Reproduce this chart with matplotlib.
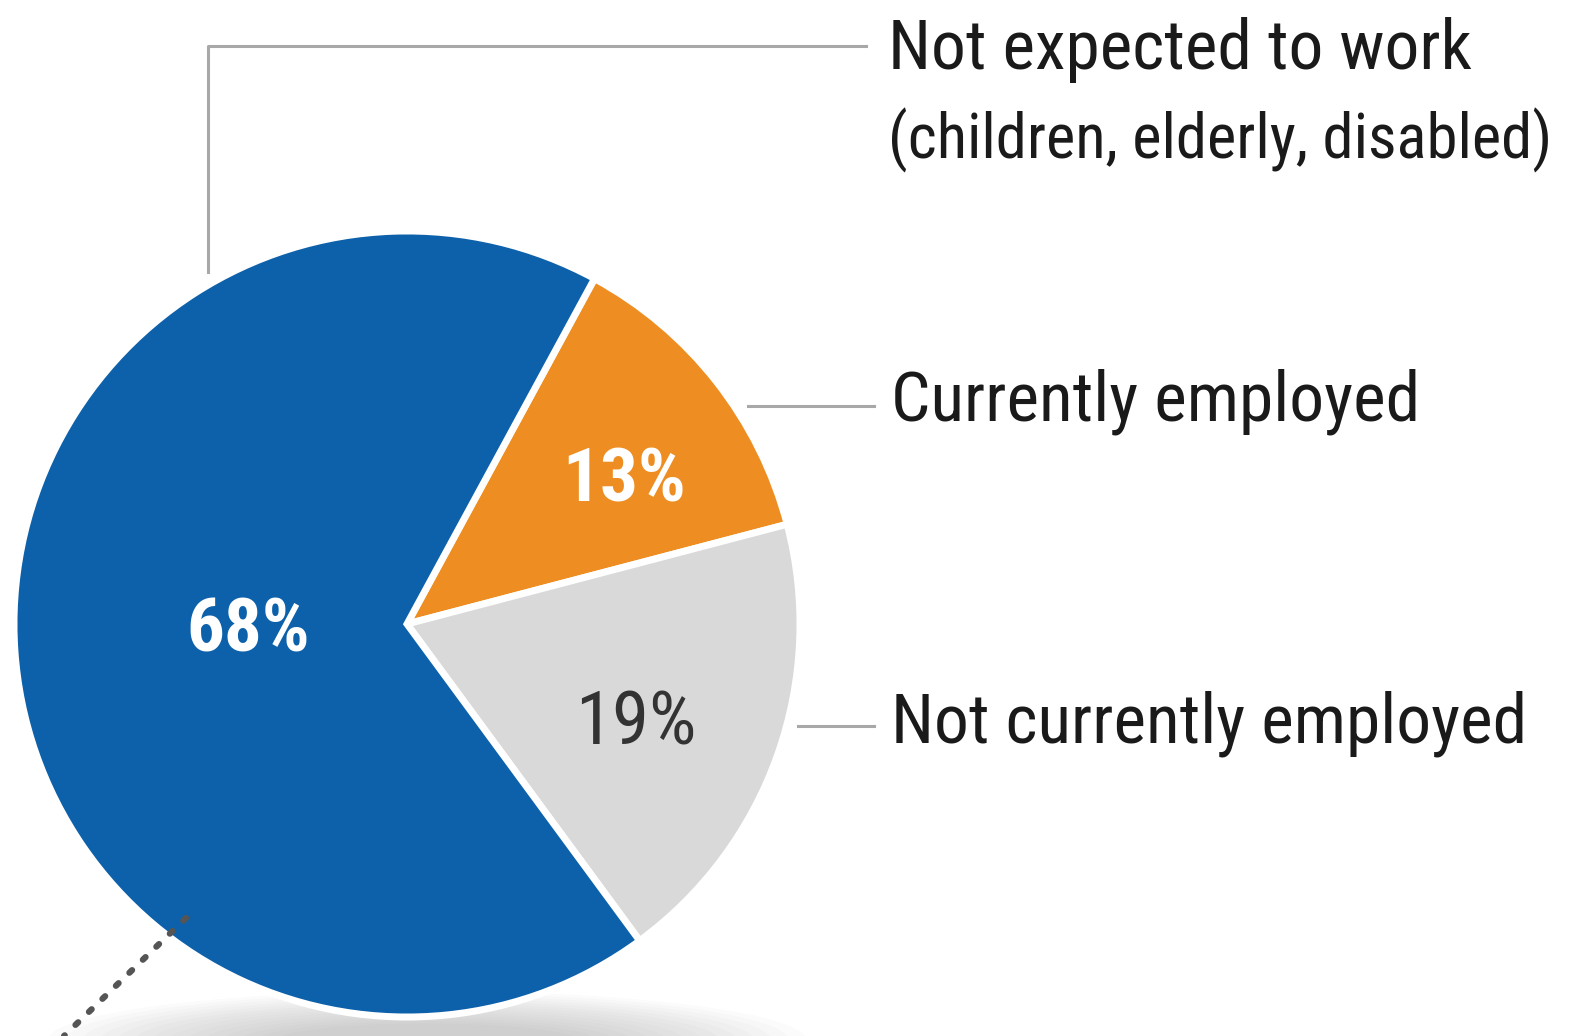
import matplotlib.pyplot as plt
from matplotlib import font_manager
from matplotlib.patches import Ellipse

# Data
labels = ["Currently employed", "Not currently employed",
          "Not expected to work", "(children, elderly, disabled)"]
values = [13, 19, 68]
colors = ["#EE8E22", "#D9D9D9", "#0C61AA"]
pct_text = ["13%", "19%", "68%"]

# pick a narrow font if one is there
names = {f.name for f in font_manager.fontManager.ttflist}
font = "DejaVu Sans"
for cand in ["Roboto Condensed", "Liberation Sans Narrow", "Open Sans Condensed"]:
    if cand in names:
        font = cand
        break
plt.rcParams["font.family"] = font

W, H = 1577, 1036
fig = plt.figure(figsize=(W / 100, H / 100), dpi=100)
ax = fig.add_axes([0, 0, 1, 1])

cx, cy, r = 407, H - 624, 393

# soft shadow under the pie
for i in range(14):
    ax.add_patch(Ellipse((cx + 20, -5), 760 - i * 35, 100 - i * 5,
                         color="#888888", alpha=0.03, lw=0, zorder=0))

wedges, _ = ax.pie(values, colors=colors, startangle=61.5, counterclock=False,
                   center=(cx, cy), radius=r, frame=True,
                   wedgeprops=dict(edgecolor="white", linewidth=5))
ax.set_xlim(0, W)
ax.set_ylim(0, H)
ax.set_aspect("equal")
ax.axis("off")

# percentage labels
ax.text(624, H - 481, pct_text[0], color="white", fontsize=54, fontweight="bold",
        ha="center", va="center")
ax.text(636, H - 724, pct_text[1], color="#333333", fontsize=54,
        ha="center", va="center")
ax.text(248, H - 632, pct_text[2], color="white", fontsize=54, fontweight="bold",
        ha="center", va="center")

# leader lines
lc = "#A8A8A8"
ax.plot([208, 208, 866], [H - 272, H - 46, H - 46], color=lc, lw=2.2)
ax.plot([748, 874], [H - 406, H - 406], color=lc, lw=2.2)
ax.plot([798, 874], [H - 726, H - 726], color=lc, lw=2.2)

# category labels
tc = "#1a1a1a"
ax.text(888, H - 50, labels[2], color=tc, fontsize=50, ha="left", va="center")
sub = ax.text(888, H - 140, labels[3], color=tc, fontsize=50, ha="left", va="center")
ax.text(891, H - 402, labels[0], color=tc, fontsize=50, ha="left", va="center")
ax.text(891, H - 724, labels[1], color=tc, fontsize=50, ha="left", va="center")

# shrink the long second line so it fits to the right edge
rend = fig.canvas.get_renderer()
w = sub.get_window_extent(renderer=rend).width
sub.set_fontsize(50 * min(1.0, 665 / w))

# dotted pointer at lower left
ax.plot([186, 64], [H - 918, H - 1036], color="#555555", lw=4.5,
        linestyle=(0, (0.6, 2.4)), dash_capstyle="round")

fig.savefig("out.png", dpi=100)
